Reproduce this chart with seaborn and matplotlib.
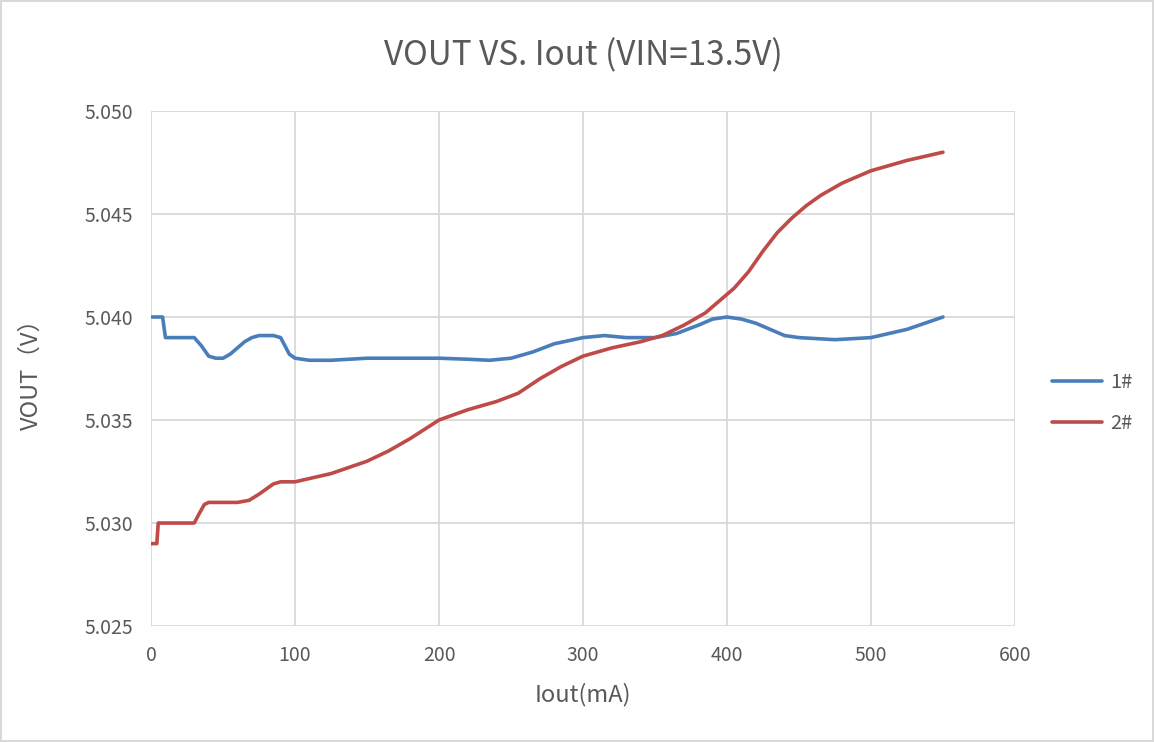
import numpy as np
import pandas as pd
import matplotlib
matplotlib.use("Agg")
import matplotlib.pyplot as plt
import seaborn as sns

# values (mA, V)
iout_1 = [0, 8, 9, 10, 20, 30, 35, 40, 45, 50, 55, 60, 65, 70, 75, 80, 85, 90, 93, 96,
          100, 110, 125, 150, 175, 200, 220, 235, 250, 265, 280, 300, 315, 330, 350,
          365, 380, 390, 400, 410, 420, 430, 440, 450, 475, 500, 525, 550]
vout_1 = [5.0400, 5.0400, 5.0395, 5.0390, 5.0390, 5.0390, 5.0386, 5.0381, 5.0380, 5.0380,
          5.0382, 5.0385, 5.0388, 5.0390, 5.0391, 5.0391, 5.0391, 5.0390, 5.0386, 5.0382,
          5.0380, 5.0379, 5.0379, 5.0380, 5.0380, 5.0380, 5.03795, 5.0379, 5.0380, 5.0383,
          5.0387, 5.0390, 5.0391, 5.0390, 5.0390, 5.0392, 5.0396, 5.0399, 5.0400, 5.0399,
          5.0397, 5.0394, 5.0391, 5.0390, 5.0389, 5.0390, 5.0394, 5.0400]

iout_2 = [0, 4, 4.5, 5, 15, 30, 33, 37, 40, 50, 60, 68, 75, 85, 90, 95, 100, 125, 150,
          165, 180, 200, 220, 240, 255, 270, 285, 300, 320, 340, 355, 370, 385, 395, 405,
          415, 425, 435, 445, 455, 465, 480, 500, 525, 550]
vout_2 = [5.0290, 5.0290, 5.0295, 5.0300, 5.0300, 5.0300, 5.0304, 5.0309, 5.0310, 5.0310,
          5.0310, 5.0311, 5.0314, 5.0319, 5.0320, 5.0320, 5.0320, 5.0324, 5.0330, 5.0335,
          5.0341, 5.0350, 5.0355, 5.0359, 5.0363, 5.0370, 5.0376, 5.0381, 5.0385, 5.0388,
          5.0391, 5.0396, 5.0402, 5.0408, 5.0414, 5.0422, 5.0432, 5.0441, 5.0448, 5.0454,
          5.0459, 5.0465, 5.0471, 5.0476, 5.0480]

series_names = ["1#", "2#"]
x_ticks = [0, 100, 200, 300, 400, 500, 600]
y_ticks = [5.025, 5.030, 5.035, 5.040, 5.045, 5.050]

df = pd.concat([
    pd.DataFrame({"Iout": iout_1, "VOUT": vout_1, "series": series_names[0]}),
    pd.DataFrame({"Iout": iout_2, "VOUT": vout_2, "series": series_names[1]}),
], ignore_index=True)

sns.set_theme(style="white")
plt.rcParams['font.family'] = ['Noto Sans CJK SC', 'DejaVu Sans']

text_color = "#595959"
grid_color = "#d9d9d9"

fig = plt.figure(figsize=(11.54, 7.42), dpi=100)
fig.patch.set_edgecolor(grid_color)
fig.patch.set_linewidth(1.5)
ax = fig.add_axes([0.1309, 0.1563, 0.8795 - 0.1309, 0.8504 - 0.1563])

sns.lineplot(data=df, x="Iout", y="VOUT", hue="series", sort=False,
             palette=["#4a7ebb", "#be4b48"], linewidth=2.6, ax=ax)

ax.set_xlim(0, 600)
ax.set_ylim(5.025, 5.050)
ax.set_xticks(x_ticks)
ax.set_yticks(y_ticks)
ax.set_yticklabels([f"{v:.3f}" for v in y_ticks])
ax.grid(True, color=grid_color, linewidth=1.3)
for s in ax.spines.values():
    s.set_visible(False)
ax.tick_params(axis="both", length=0, labelsize=14, colors=text_color)
ax.tick_params(axis="x", pad=14)
ax.tick_params(axis="y", pad=13)

ax.set_title("VOUT VS. Iout (VIN=13.5V)", fontsize=24, color=text_color, pad=33)
ax.set_xlabel("Iout(mA)", fontsize=17, color=text_color, labelpad=12)
ax.set_ylabel("VOUT（V）", fontsize=17, color=text_color, labelpad=30)

ax.legend(loc="center left", bbox_to_anchor=(1.022, 0.433), frameon=False,
          fontsize=14.5, labelcolor=text_color, handlelength=2.5, handletextpad=0.4,
          labelspacing=0.95)

fig.savefig("out.png", dpi=100)
